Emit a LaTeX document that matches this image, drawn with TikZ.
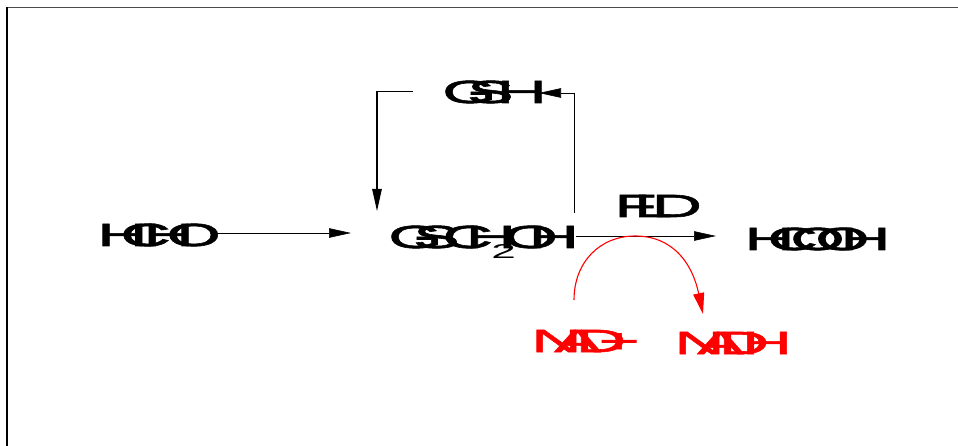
\documentclass[tikz,border=0pt]{standalone}
\usepackage{fontspec}
\usetikzlibrary{arrows.meta}
\newfontfamily\basefont{Liberation Sans}
\newfontfamily\widefont[FakeStretch=2.2,FakeBold=1.8]{Liberation Sans}
\newfontfamily\subfont[FakeStretch=2.2]{Liberation Sans}
\newcommand{\onech}[1]{\setbox0\hbox{\basefont\fontsize{32}{32}\selectfont #1}\makebox[\wd0][l]{\widefont\fontsize{32}{32}\selectfont #1}}
\def\spreadloop#1{\ifx#1\relax\else\onech{#1}\expandafter\spreadloop\fi}
\newcommand{\spread}[1]{\spreadloop#1\relax}
\newcommand{\lab}[2]{\makebox[#1pt][l]{\hspace{-5pt}#2}}
\newcommand{\subtwo}{\makebox[15pt][l]{\raisebox{-11pt}{\hspace{3pt}\subfont\fontsize{20}{20}\selectfont 2}}}
\tikzset{
  x=1pt,y=-1pt,
  chem/.style={inner sep=0pt,outer sep=0pt,anchor=west,text height=23pt,text depth=0pt},
  conn/.style={line width=0.6pt,draw=black},
  head/.style={-{Stealth[length=22pt,width=9.5pt,inset=0pt]}},
  rxn/.style={line width=1.1pt,draw=rxnred,-{Stealth[length=21pt,width=11pt,inset=0pt]}}
}
\definecolor{rxnred}{RGB}{255,0,0}
\begin{document}
\begin{tikzpicture}
\useasboundingbox (0,0) rectangle (958,446);
\draw[line width=0.7pt,draw=black!70] (7,7) -- (958,7);
\draw[line width=1.6pt] (7,7) -- (7,446);
\node[chem] (hcho) at (102,234.5) {\lab{114}{\spread{HCHO}}};
\node[chem] (gsh) at (447,91.5) {\lab{98}{\spread{GS}\hspace{8pt}\spread{H}}};
\node[chem] (gsch) at (393,236.5) {\lab{181}{\spread{GS}\hspace{8pt}\spread{CH}\subtwo\spread{OH}}};
\node[chem] (fld) at (619,205.5) {\lab{81}{\spread{FLD}}};
\node[chem] (hcooh) at (749,238.5) {\lab{136}{\spread{HCOOH}}};
\node[chem,text=rxnred] (nadp) at (536,340.5) {\lab{100}{\spread{NAD+}}};
\node[chem,text=rxnred] (nadh) at (679,342.5) {\lab{107}{\spread{NADH}}};
\coordinate (cl) at (377,91);
\coordinate (cr) at (574,93);
\coordinate (gl) at (377,211);
\coordinate (gr) at (574,213);
\coordinate (gshl) at (413,91);
\coordinate (gshr) at (539,93);
\coordinate (fdhin) at (576,236);
\coordinate (fdhout) at (716,236);
\coordinate (nadout) at (574,300);
\coordinate (nadin) at (703,314);
\draw[conn,head] (hcho.east |- 0,233) -- (351,233);
\draw[conn] (gshl) -- (cl);
\draw[line width=1.1pt,head] (cl) -- (gl);
\draw[line width=0.9pt] (gr) -- (cr);
\draw[conn,head] (cr) -- (gshr);
\draw[conn,head] (fdhin) -- (fdhout);
\draw[rxn] (nadout) .. controls (574,262) and (600,236) .. (635,236)
  .. controls (672,236) and (692,262) .. (nadin);
\end{tikzpicture}
\end{document}
